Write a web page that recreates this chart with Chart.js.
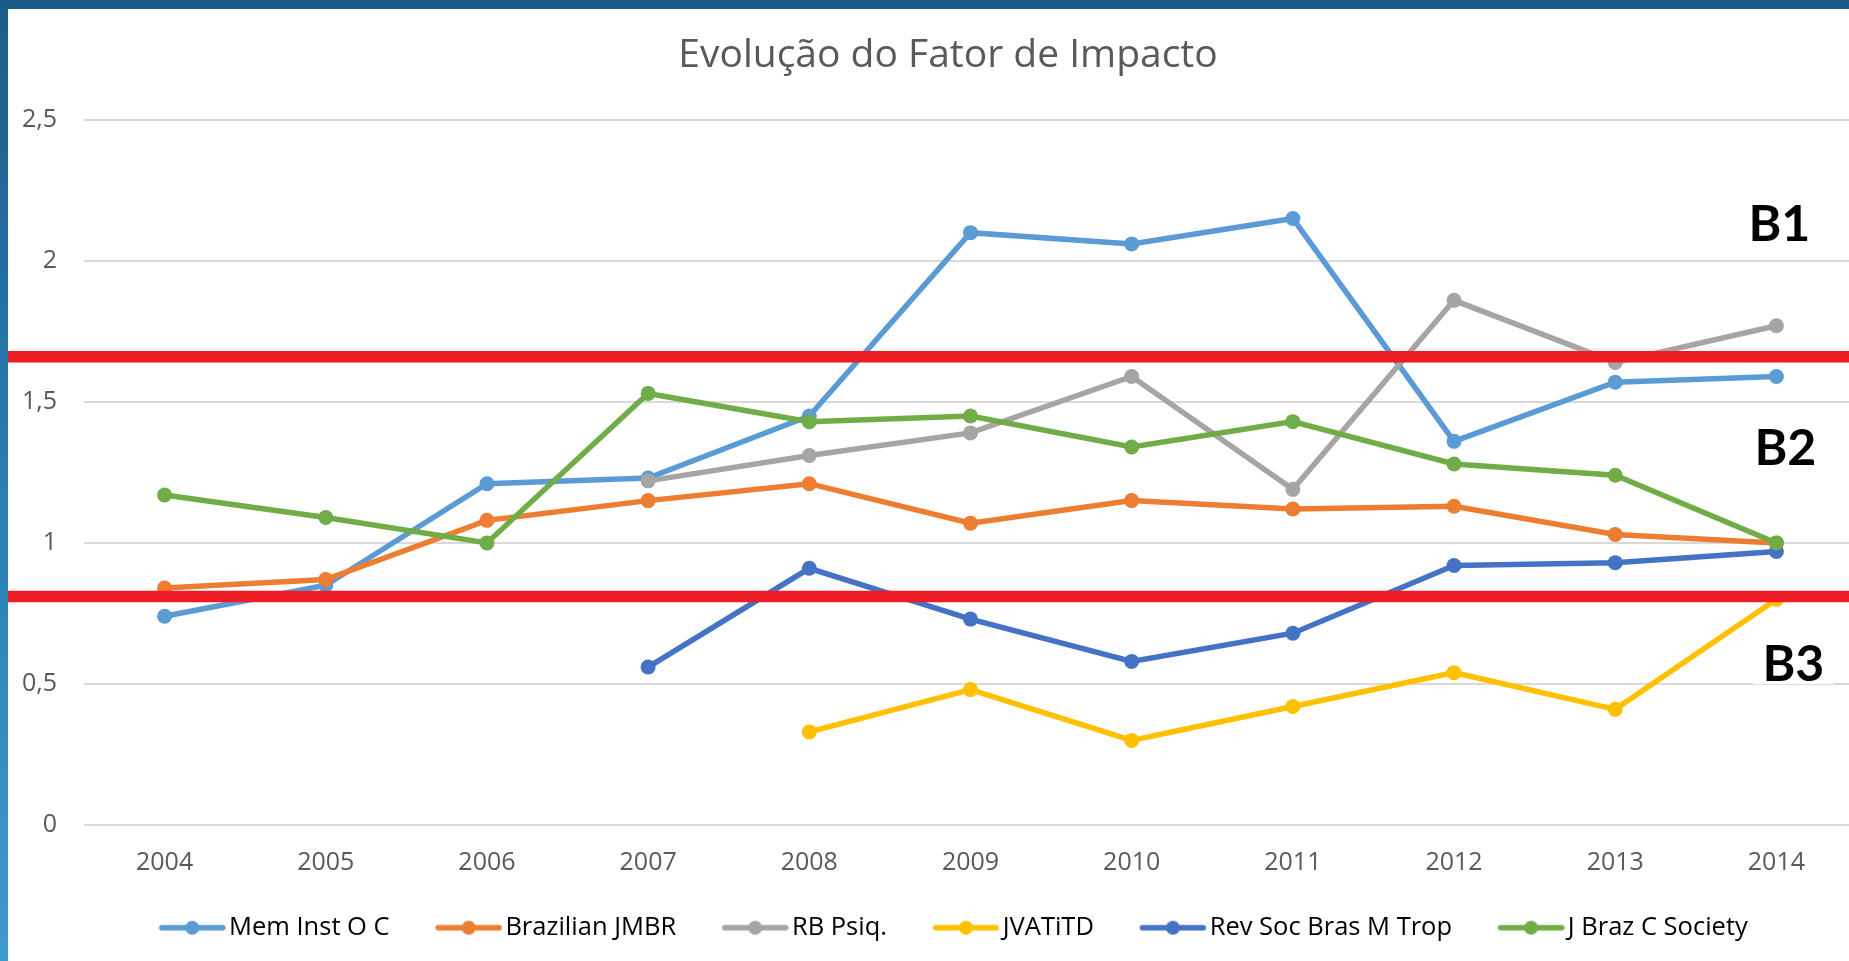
<!DOCTYPE html>
<html lang="pt">
<head>
<meta charset="utf-8">
<title>Evolução do Fator de Impacto</title>
<script src="https://cdn.jsdelivr.net/npm/chart.js@4.4.1/dist/chart.umd.min.js"></script>
<style>
  html, body { margin: 0; padding: 0; width: 1849px; height: 961px; overflow: hidden; }
  body { background: linear-gradient(180deg, #1a5c89 0%, #2c80b3 55%, #3f9acd 100%); position: relative; }
  #panel { position: absolute; left: 8px; top: 9px; width: 1849px; height: 952px; background: #fff; overflow: hidden; }
  #box { position: absolute; left: 0; top: 0; width: 1867px; height: 945px; }
</style>
</head>
<body>
<div id="panel"><div id="box"><canvas id="chart"></canvas></div></div>
<script>
// dados
const years = ['2004', '2005', '2006', '2007', '2008', '2009', '2010', '2011', '2012', '2013', '2014'];
const memInst  = [0.74, 0.85, 1.21, 1.23, 1.45, 2.10, 2.06, 2.15, 1.36, 1.57, 1.59];
const brazJMBR = [0.84, 0.87, 1.08, 1.15, 1.21, 1.07, 1.15, 1.12, 1.13, 1.03, 1.00];
const rbPsiq   = [null, null, null, 1.22, 1.31, 1.39, 1.59, 1.19, 1.86, 1.64, 1.77];
const jvatitd  = [null, null, null, null, 0.33, 0.48, 0.30, 0.42, 0.54, 0.41, 0.80];
const revSoc   = [null, null, null, 0.56, 0.91, 0.73, 0.58, 0.68, 0.92, 0.93, 0.97];
const jBrazC   = [1.17, 1.09, 1.00, 1.53, 1.43, 1.45, 1.34, 1.43, 1.28, 1.24, 1.00];

const seriesNames  = ['Mem Inst O C', 'Brazilian JMBR', 'RB Psiq.', 'JVATiTD', 'Rev Soc Bras M Trop', 'J Braz C Society'];
const seriesData   = [memInst, brazJMBR, rbPsiq, jvatitd, revSoc, jBrazC];
const seriesColors = ['#5B9BD5', '#ED7D31', '#A5A5A5', '#FFC000', '#4472C4', '#70AD47'];

const yTickValues = [0, 0.5, 1, 1.5, 2, 2.5];
const yTickLabels = ['0', '0,5', '1', '1,5', '2', '2,5'];

// faixas (linhas vermelhas) e rótulos B1/B2/B3
const thresholds = [1.66, 0.81];
const bandLabels = ['B1', 'B2', 'B3'];
const bandLabelValues = [2.135, 1.34, 0.574];

Chart.defaults.font.family = "'Open Sans', sans-serif";
Chart.defaults.color = '#595959';

// marcador da legenda: linha com ponto no meio (parte esquerda transparente)
function makeMarker(color) {
  const c = document.createElement('canvas');
  c.width = 87;
  c.height = 18;
  const g = c.getContext('2d');
  g.strokeStyle = color;
  g.fillStyle = color;
  g.lineWidth = 5.5;
  g.lineCap = 'round';
  g.beginPath();
  g.moveTo(23, 9);
  g.lineTo(84, 9);
  g.stroke();
  g.beginPath();
  g.arc(53.5, 9, 7, 0, Math.PI * 2);
  g.fill();
  return c;
}
const markers = seriesColors.map(makeMarker);

const bandPlugin = {
  id: 'bands',
  afterDatasetsDraw(chart) {
    const { ctx, scales: { x, y } } = chart;
    ctx.save();
    ctx.strokeStyle = '#ED1C24';
    ctx.lineWidth = 11.5;
    thresholds.forEach(v => {
      const py = y.getPixelForValue(v);
      ctx.beginPath();
      ctx.moveTo(0, py);
      ctx.lineTo(chart.width, py);
      ctx.stroke();
    });
    const xLast = x.getPixelForValue(years.length - 1);
    const offsets = [3, 9, 17];
    ctx.font = 'bold 50px Lato, sans-serif';
    ctx.textAlign = 'center';
    ctx.textBaseline = 'alphabetic';
    bandLabels.forEach((t, i) => {
      const px = xLast + offsets[i];
      const py = y.getPixelForValue(bandLabelValues[i]);
      const w = ctx.measureText(t).width;
      ctx.fillStyle = '#fff';
      ctx.fillRect(px - w / 2 - 9, py - 21, w + 18, 42);
      ctx.fillStyle = '#000';
      ctx.fillText(t, px, py + 18);
    });
    ctx.restore();
  }
};

const datasets = seriesNames.map((name, i) => ({
  label: name,
  data: seriesData[i],
  yAxisID: 'y',
  borderColor: seriesColors[i],
  backgroundColor: seriesColors[i],
  pointBackgroundColor: seriesColors[i],
  pointBorderColor: seriesColors[i],
  borderWidth: 5.5,
  pointRadius: 7.5,
  pointBorderWidth: 0,
  tension: 0,
  spanGaps: false,
  order: seriesNames.length - 1 - i
}));

new Chart(document.getElementById('chart'), {
  type: 'line',
  data: { labels: years, datasets },
  options: {
    responsive: true,
    maintainAspectRatio: false,
    animation: false,
    layout: { padding: { left: 13, right: 0, top: 0, bottom: 3.5 } },
    plugins: {
      title: {
        display: true,
        text: 'Evolução do Fator de Impacto',
        color: '#595959',
        font: { size: 39, weight: 'normal', lineHeight: 1.2 },
        padding: { top: 23, bottom: 41 }
      },
      legend: {
        position: 'bottom',
        labels: {
          usePointStyle: true,
          pointStyleWidth: 68,
          padding: 35,
          color: '#595959',
          font: { size: 25.5 },
          generateLabels: chart => chart.data.datasets.map((ds, i) => ({
            text: ds.label,
            pointStyle: markers[i],
            fillStyle: ds.borderColor,
            strokeStyle: ds.borderColor,
            lineWidth: 0,
            hidden: false,
            datasetIndex: i
          }))
        }
      },
      tooltip: { enabled: false }
    },
    scales: {
      x: {
        offset: true,
        grid: { display: false },
        border: { display: false },
        ticks: { font: { size: 25 }, color: '#595959', padding: 15, maxRotation: 0, autoSkip: false },
        afterFit(scale) { scale.height = 55; }
      },
      y: {
        min: 0,
        max: 2.5,
        grid: { color: '#D9D9D9', lineWidth: 2, drawTicks: false },
        border: { display: false },
        afterBuildTicks(scale) { scale.ticks = yTickValues.map(v => ({ value: v })); },
        ticks: {
          font: { size: 25 },
          color: '#595959',
          padding: 27,
          callback: (v, i) => yTickLabels[i]
        },
        afterFit(scale) { scale.width = 63; }
      },
      // eixo vazio à direita: a área cortada do gráfico original
      y2: {
        position: 'right',
        grid: { display: false },
        border: { display: false },
        ticks: { display: false },
        afterFit(scale) { scale.width = 18; }
      }
    }
  },
  plugins: [bandPlugin]
});
</script>
</body>
</html>
